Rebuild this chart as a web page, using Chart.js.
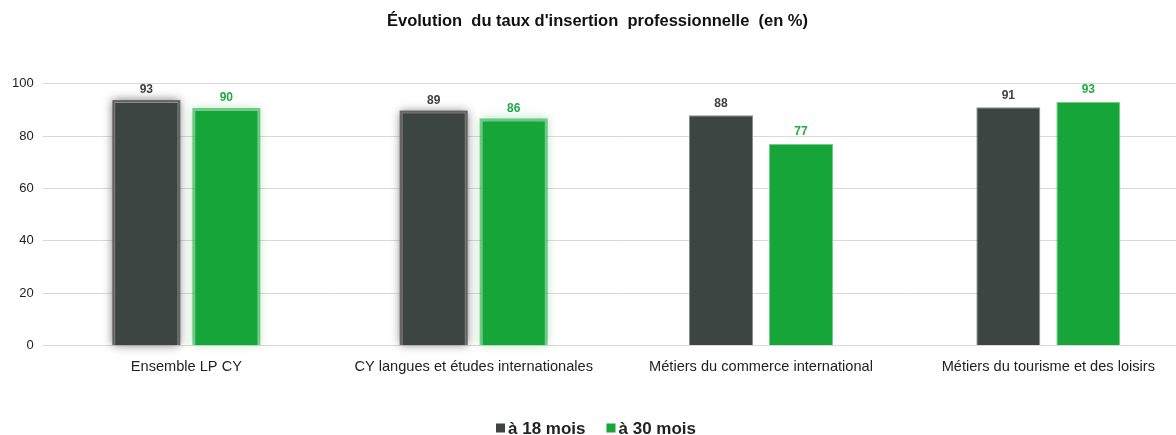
<!DOCTYPE html>
<html>
<head>
<meta charset="utf-8">
<script src="https://cdn.jsdelivr.net/npm/chart.js@4"></script>
<style>
    html, body { margin: 0; padding: 0; background: #fff; overflow: hidden; }
    #wrap { position: absolute; left: 0; top: 0; width: 1192px; height: 435px; }
</style>
</head>
<body>
<div id="wrap"><canvas id="chart"></canvas></div>
<script>
const categories = [
    'Ensemble LP CY',
    'CY langues et études internationales',
    'Métiers du commerce international',
    'Métiers du tourisme et des loisirs'
];
const months18 = [93, 89, 88, 91];
const months30 = [90, 86, 77, 93];
const seriesNames = ['à 18 mois', 'à 30 mois'];
const yTicks = [0, 20, 40, 60, 80, 100];
const glowIndexes = [0, 1];

const DARK = '#3c4542';
const GREEN = '#16a538';
const FONT = '"Liberation Sans", Arial, sans-serif';

// halo autour des deux premiers groupes
const glowPlugin = {
    id: 'glow',
    beforeDatasetsDraw(chart) {
        const ctx = chart.ctx;
        const glowColors = ['rgba(90,90,90,0.9)', 'rgba(22,165,56,0.55)'];
        chart.data.datasets.forEach((ds, i) => {
            const meta = chart.getDatasetMeta(i);
            glowIndexes.forEach(idx => {
                const bar = meta.data[idx];
                if (!bar) return;
                const p = bar.getProps(['x', 'y', 'base', 'width'], true);
                ctx.save();
                ctx.shadowColor = glowColors[i];
                ctx.shadowBlur = 9;
                ctx.fillStyle = glowColors[i];
                ctx.fillRect(p.x - p.width / 2 - 2, p.y - 2, p.width + 4, p.base - p.y + 2);
                ctx.restore();
            });
        });
    }
};

// étiquettes de valeurs au-dessus des barres
const valueLabels = {
    id: 'valueLabels',
    afterDatasetsDraw(chart) {
        const ctx = chart.ctx;
        const colors = ['#404040', '#1fab45'];
        ctx.save();
        ctx.font = 'bold 12px ' + FONT;
        ctx.textAlign = 'center';
        ctx.textBaseline = 'bottom';
        chart.data.datasets.forEach((ds, i) => {
            const meta = chart.getDatasetMeta(i);
            ctx.fillStyle = colors[i];
            meta.data.forEach((bar, j) => {
                ctx.fillText(ds.data[j], bar.x, bar.y - 6);
            });
        });
        ctx.restore();
    }
};

// légende compacte en bas (carré collé au texte)
const bottomLegend = {
    id: 'bottomLegend',
    afterDraw(chart) {
        const ctx = chart.ctx;
        const box = 9, gap = 3, itemGap = 21, y = 428;
        ctx.save();
        ctx.font = 'bold 17px ' + FONT;
        ctx.textBaseline = 'middle';
        const items = chart.data.datasets.map(ds => ({
            text: ds.label,
            color: ds.backgroundColor,
            w: box + gap + ctx.measureText(ds.label).width
        }));
        const total = items.reduce((s, it) => s + it.w, 0) + itemGap * (items.length - 1);
        let x = chart.width / 2 - total / 2;
        items.forEach(it => {
            ctx.fillStyle = it.color;
            ctx.fillRect(x, y - box / 2, box, box);
            ctx.fillStyle = '#222';
            ctx.fillText(it.text, x + box + gap, y + 1);
            x += it.w + itemGap;
        });
        ctx.restore();
    }
};

new Chart(document.getElementById('chart'), {
    type: 'bar',
    data: {
        labels: categories,
        datasets: [
            {
                label: seriesNames[0],
                data: months18,
                backgroundColor: DARK,
                borderColor: '#8a8f8d',
                borderWidth: 1,
                categoryPercentage: 0.557,
                barPercentage: 0.8
            },
            {
                label: seriesNames[1],
                data: months30,
                backgroundColor: GREEN,
                borderColor: '#6fd08a',
                borderWidth: 1,
                categoryPercentage: 0.557,
                barPercentage: 0.8
            }
        ]
    },
    options: {
        responsive: true,
        maintainAspectRatio: false,
        animation: false,
        layout: { padding: { top: 12, left: 3, right: 0, bottom: 54 } },
        scales: {
            x: {
                grid: { display: false },
                border: { display: false },
                ticks: {
                    color: '#222',
                    padding: 5,
                    maxRotation: 0,
                    font: { size: 14.6, family: FONT }
                }
            },
            y: {
                min: 0,
                max: 100,
                afterBuildTicks: axis => { axis.ticks = yTicks.map(v => ({ value: v })); },
                grid: { color: '#d9d9d9', lineWidth: 1, drawTicks: false },
                border: { display: false },
                ticks: {
                    color: '#222',
                    padding: 9,
                    font: { size: 13, family: FONT }
                }
            }
        },
        plugins: {
            title: {
                display: true,
                text: "Évolution  du taux d'insertion  professionnelle  (en %)",
                color: '#111',
                font: { size: 16.5, weight: 'bold', family: FONT },
                padding: { top: 0, bottom: 52 }
            },
            legend: { display: false },
            tooltip: { enabled: false }
        }
    },
    plugins: [glowPlugin, valueLabels, bottomLegend]
});
</script>
</body>
</html>
